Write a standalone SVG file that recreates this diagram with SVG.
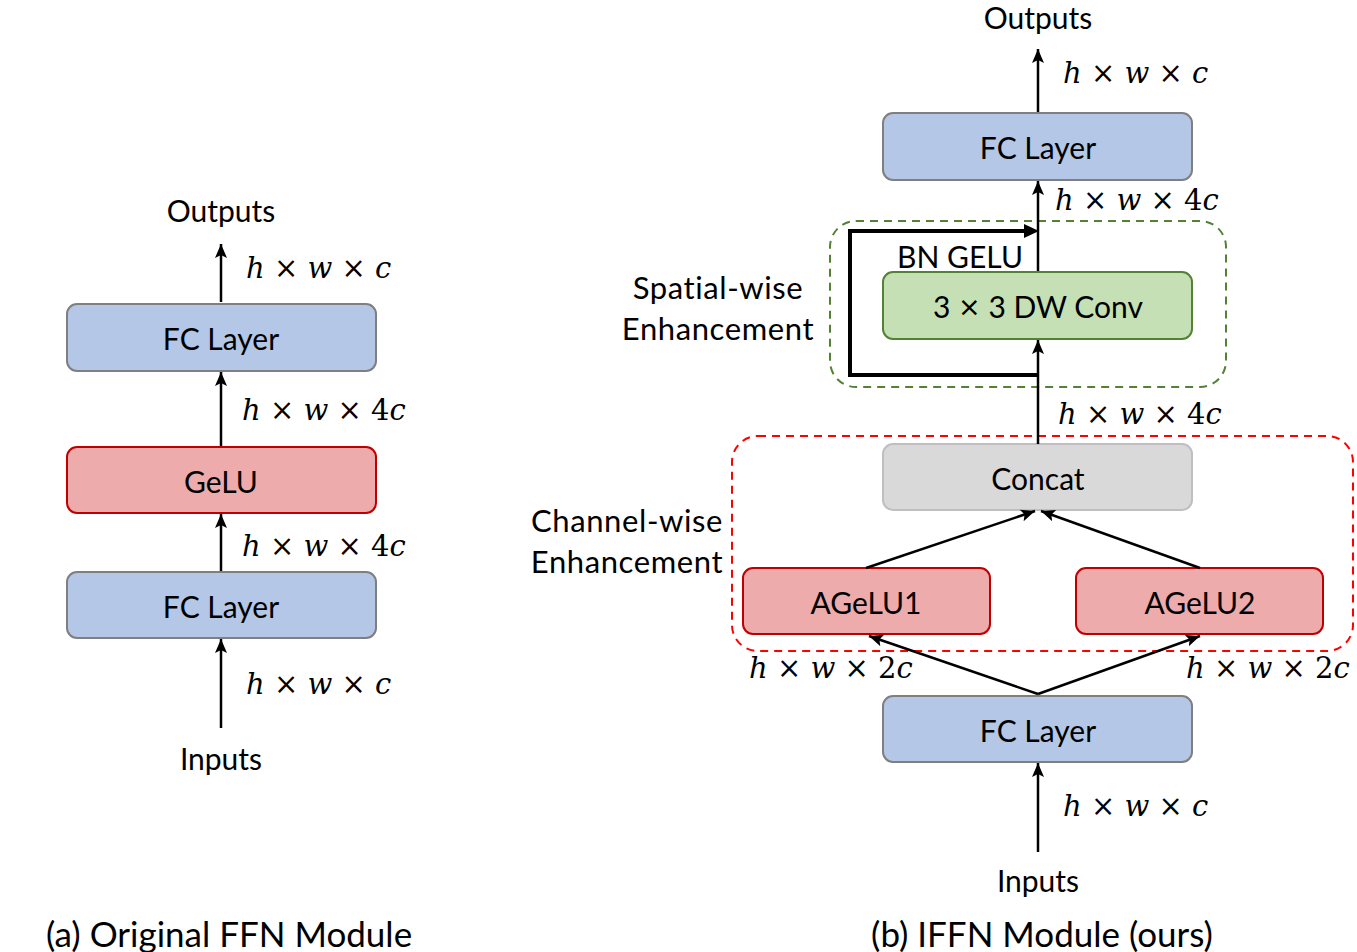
<svg xmlns="http://www.w3.org/2000/svg" width="1357" height="952" viewBox="0 0 1357 952">
<style>
.t{font-family:Lato,"Open Sans",sans-serif;font-size:30px;fill:#000;text-anchor:middle;dominant-baseline:central}
.s{font-size:31px;letter-spacing:0.6px}
.cap{font-family:Lato,"Open Sans",sans-serif;font-size:35px;fill:#000;text-anchor:middle;dominant-baseline:central}
.m{font-family:"DejaVu Serif","Liberation Serif",serif;font-style:italic;font-size:29px;fill:#000;dominant-baseline:central}
.m tspan.x{font-style:normal}
.blue{fill:#b4c7e7;stroke:#7f7f7f;stroke-width:2}
.red{fill:#edabab;stroke:#c00000;stroke-width:2}
.green{fill:#c5e0b4;stroke:#548235;stroke-width:2}
.gray{fill:#d9d9d9;stroke:#bfbfbf;stroke-width:2}
.a{stroke:#000;stroke-width:2.5;fill:none;marker-end:url(#ah)}
</style>
<defs>
<marker id="ah" markerUnits="userSpaceOnUse" markerWidth="16" markerHeight="16" viewBox="0 0 16 16" refX="14" refY="8" orient="auto">
<path d="M0,2 L14,8 L0,14 L3,8 Z" fill="#000"/>
</marker>
</defs>
<rect width="1357" height="952" fill="#fff"/>

<!-- Left (a) -->
<g id="a-outputs"><text class="t" x="221" y="210">Outputs</text></g>
<g id="a-fc2"><rect class="blue" x="67" y="304" width="309" height="67" rx="10"/><text class="t" x="221" y="338">FC Layer</text></g>
<g id="a-gelu"><rect class="red" x="67" y="447" width="309" height="66" rx="10"/><text class="t" x="221" y="481">GeLU</text></g>
<g id="a-fc1"><rect class="blue" x="67" y="572" width="309" height="66" rx="10"/><text class="t" x="221" y="606">FC Layer</text></g>
<g id="a-inputs"><text class="t" x="221" y="758">Inputs</text></g>
<g id="a-caption"><text class="cap" x="229" y="933">(a) Original FFN Module</text></g>

<!-- Right (b) -->
<g id="b-outputs"><text class="t" x="1038" y="17">Outputs</text></g>
<g id="b-fc2"><rect class="blue" x="883" y="113" width="309" height="67" rx="10"/><text class="t" x="1038" y="147">FC Layer</text></g>
<g id="b-spatial-group"><rect x="830" y="221" width="396" height="166" rx="26" fill="none" stroke="#548235" stroke-width="2" stroke-dasharray="8,6"/></g>
<g id="b-dwconv"><rect class="green" x="883" y="272" width="309" height="67" rx="10"/><text class="t" x="1038" y="306">3 <tspan font-family="DejaVu Sans" font-size="27">×</tspan> 3 DW Conv</text></g>
<g id="b-channel-group"><rect x="732" y="436" width="621" height="215" rx="26" fill="none" stroke="#ff0000" stroke-width="2" stroke-dasharray="8,6"/></g>
<g id="b-concat"><rect class="gray" x="883" y="444" width="309" height="66" rx="10"/><text class="t" x="1038" y="478">Concat</text></g>
<g id="b-agelu1"><rect class="red" x="743" y="568" width="247" height="66" rx="10"/><text class="t" x="866" y="602">AGeLU1</text></g>
<g id="b-agelu2"><rect class="red" x="1076" y="568" width="247" height="66" rx="10"/><text class="t" x="1200" y="602">AGeLU2</text></g>
<g id="b-fc1"><rect class="blue" x="883" y="696" width="309" height="66" rx="10"/><text class="t" x="1038" y="730">FC Layer</text></g>
<g id="b-inputs"><text class="t" x="1038" y="880">Inputs</text></g>
<g id="b-caption"><text class="cap" x="1042" y="933">(b) IFFN Module (ours)</text></g>
<g id="b-labels">
<text class="t s" x="718" y="287">Spatial-wise</text>
<text class="t s" x="718" y="328">Enhancement</text>
<text class="t s" x="627" y="520">Channel-wise</text>
<text class="t s" x="627" y="561">Enhancement</text>
<text class="t" x="960" y="256">BN GELU</text>
</g>

<!-- Connectors -->
<g id="connectors">
<line class="a" x1="221" y1="302" x2="221" y2="244"/>
<line class="a" x1="221" y1="446" x2="221" y2="372"/>
<line class="a" x1="221" y1="571" x2="221" y2="514"/>
<line class="a" x1="221" y1="728" x2="221" y2="639"/>

<line class="a" x1="1038" y1="112" x2="1038" y2="49"/>
<line class="a" x1="1038" y1="271" x2="1038" y2="181"/>
<line class="a" x1="1038" y1="444" x2="1038" y2="340"/>
<path d="M1038,375 L850,375 L850,231 L1030,231" stroke="#000" stroke-width="4" fill="none"/>
<path d="M1024,224 L1039,231 L1024,238 Z" fill="#000"/>
<line class="a" x1="866" y1="568" x2="1035" y2="511"/>
<line class="a" x1="1200" y1="568" x2="1041" y2="511"/>
<line class="a" x1="1038" y1="694" x2="869" y2="636"/>
<line class="a" x1="1038" y1="694" x2="1200" y2="636"/>
<line class="a" x1="1038" y1="852" x2="1038" y2="763"/>
</g>

<!-- Dimension labels -->
<g id="dims">
<text class="m" x="246" y="268">h <tspan class="x">×</tspan> w <tspan class="x">×</tspan> c</text>
<text class="m" x="242" y="410">h <tspan class="x">×</tspan> w <tspan class="x">×</tspan> <tspan class="x">4</tspan>c</text>
<text class="m" x="242" y="546">h <tspan class="x">×</tspan> w <tspan class="x">×</tspan> <tspan class="x">4</tspan>c</text>
<text class="m" x="246" y="684">h <tspan class="x">×</tspan> w <tspan class="x">×</tspan> c</text>
<text class="m" x="1063" y="73">h <tspan class="x">×</tspan> w <tspan class="x">×</tspan> c</text>
<text class="m" x="1055" y="200">h <tspan class="x">×</tspan> w <tspan class="x">×</tspan> <tspan class="x">4</tspan>c</text>
<text class="m" x="1058" y="414">h <tspan class="x">×</tspan> w <tspan class="x">×</tspan> <tspan class="x">4</tspan>c</text>
<text class="m" x="749" y="668">h <tspan class="x">×</tspan> w <tspan class="x">×</tspan> <tspan class="x">2</tspan>c</text>
<text class="m" x="1186" y="668">h <tspan class="x">×</tspan> w <tspan class="x">×</tspan> <tspan class="x">2</tspan>c</text>
<text class="m" x="1063" y="806">h <tspan class="x">×</tspan> w <tspan class="x">×</tspan> c</text>
</g>
</svg>
